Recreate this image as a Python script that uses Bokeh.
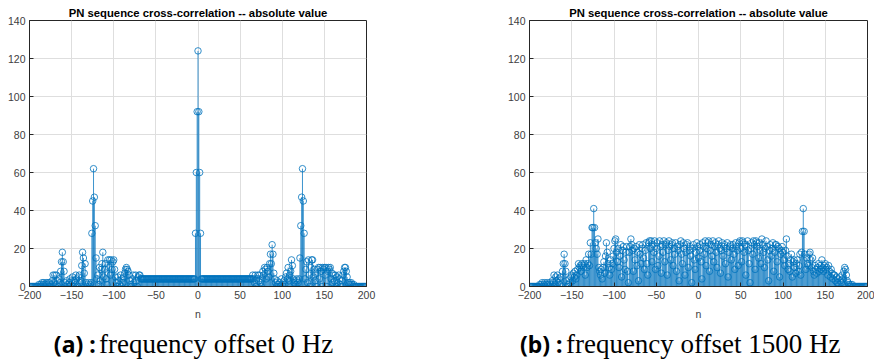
from bokeh.plotting import figure
from bokeh.models import Div, FixedTicker
from bokeh.layouts import row, column
from bokeh.embed import file_html
from bokeh.resources import INLINE

# lags n = -199 .. 199
lags = list(range(-199, 200))

corr_a = (
    [0,0,0,0,0,0,0,0,0,0,1,0,1,0,2,1,2,0,1,2] +
    [1,2,0,2,1,0,3,6,2,6,1,6,3,0,4,2,8,13,18,13] +
    [8,2,0,3,1,0,2,4,1,3,5,0,3,2,6,4,0,5,6,2] +
    [3,11,18,15,7,12,2,0,1,2,0,1,2,28,45,62,47,32,15,4] +
    [6,1,10,3,9,12,18,5,9,12,4,1,14,10,14,6,14,9,13,14] +
    [9,5,2,0,5,3,1,6,0,4,2,5,7,9,10,9,8,6,3,1] +
    [0,4,6,2,0,6,3,0,5,6,6,4,4,4,4,4,4,4,4,4] +
    [4,4,4,4,4,4,4,4,4,4,4,4,4,4,4,4,4,4,4,4] +
    [4,4,4,4,4,4,4,4,4,4,4,4,4,4,4,4,4,4,4,4] +
    [4,4,4,4,4,4,4,4,4,4,4,4,4,4,4,4,28,60,92,124] +
    [92,60,28,4,4,4,4,4,4,4,4,4,4,4,4,4,4,4,4,4] +
    [4,4,4,4,4,4,4,4,4,4,4,4,4,4,4,4,4,4,4,4] +
    [4,4,4,4,4,4,4,4,4,4,4,4,4,4,4,4,4,4,4,4] +
    [4,4,4,4,6,4,2,6,0,4,6,3,6,2,0,4,8,6,10,9] +
    [4,10,8,5,12,17,12,22,17,7,4,2,0,3,1,0,2,0,4,1] +
    [0,3,1,5,7,4,10,3,6,8,14,11,4,2,3,1,4,3,2,4] +
    [15,32,47,62,45,28,4,9,13,2,14,6,0,10,14,14,5,9,3,7] +
    [0,9,10,4,10,8,0,10,9,10,6,10,0,8,10,9,10,4,7,2] +
    [6,3,6,0,5,2,6,4,1,0,3,6,8,10,10,8,5,2,1,2] +
    [1,2,1,0,1,0,0,0,0,0,0,0,0,0,0,0,0,0,0]
)

corr_b = (
    [0,0,0,0,0,0,0,0,0,0,0,1,0,1,2,0,1,2,0,1] +
    [2,1,0,2,1,0,3,2,6,1,5,3,6,2,4,1,5,0,8,12] +
    [17,12,8,3,0,1,4,2,5,6,3,7,5,8,4,6,9,12,10,11] +
    [8,12,11,10,12,6,14,10,12,17,11,23,17,31,31,41,31,23,20,17] +
    [25,10,8,6,9,4,10,13,7,16,23,18,12,10,6,14,9,12,16,20] +
    [24,25,18,13,20,10,16,22,5,19,21,14,9,18,21,8,2,18,21,25] +
    [22,19,8,20,14,21,11,18,3,22,17,12,20,22,15,9,19,23,12,6] +
    [23,24,20,24,13,22,18,24,9,20,23,11,16,24,21,7,22,18,24,13] +
    [22,23,6,19,24,21,14,22,23,11,20,17,23,8,21,19,3,22,24,17] +
    [12,23,20,6,18,22,23,10,19,21,16,2,20,22,14,9,18,23,21,15] +
    [19,22,13,4,23,21,17,24,11,20,23,24,8,19,22,16,24,13,21,23] +
    [18,10,22,24,20,7,19,23,16,21,22,12,20,23,5,18,21,22,14,20] +
    [22,17,9,23,21,19,11,23,24,20,13,24,23,18,22,6,21,24,19,12] +
    [2,20,23,17,24,22,9,24,23,21,15,23,19,12,25,22,18,10,20,24] +
    [21,14,3,19,22,16,20,23,8,18,22,22,13,21,20,5,17,19,21,18] +
    [14,11,19,25,16,9,12,8,14,17,5,13,14,10,7,12,14,8,11,17] +
    [6,18,29,41,29,17,9,15,12,11,17,18,14,10,15,8,6,11,9,7] +
    [10,12,8,11,9,14,10,8,11,12,9,10,6,11,8,5,9,7,4,6] +
    [6,3,5,2,4,1,5,3,2,6,4,8,10,9,6,3,2,1,0,1] +
    [0,1,0,0,0,0,0,0,0,0,0,0,0,0,0,0,0,0,0]
)

x_ticks = [-200, -150, -100, -50, 0, 50, 100, 150, 200]
y_ticks = [0, 20, 40, 60, 80, 100, 120, 140]
title_text = "PN sequence cross-correlation -- absolute value"
x_label = "n"
caption_tags = ["(a) :", "(b) :"]
caption_texts = ["frequency offset 0 Hz", "frequency offset 1500 Hz"]

BLUE = "#0072BD"
AXC = "#262626"
TICKC = "#404040"


def make_panel(vals, left, right, fw):
    p = figure(frame_width=fw, frame_height=266,
               min_border_left=left, min_border_right=right,
               min_border_top=20, min_border_bottom=40,
               x_range=(-200, 200), y_range=(0, 140),
               output_backend="svg", toolbar_location=None,
               title=title_text)
    p.title.text_font = "Liberation Sans"
    p.title.text_font_size = "11.3px"
    p.title.text_font_style = "bold"
    p.title.text_color = "#000000"
    p.title.align = "center"
    p.title.standoff = 4
    p.segment(x0=lags, y0=[0] * len(lags), x1=lags, y1=vals,
              line_color=BLUE, line_width=0.9, line_alpha=0.85)
    p.scatter(x=lags, y=vals, marker="circle", size=6.5,
              fill_color=None, line_color=BLUE, line_width=0.8)
    p.xaxis.ticker = FixedTicker(ticks=x_ticks)
    p.yaxis.ticker = FixedTicker(ticks=y_ticks)
    for ax in (p.xaxis[0], p.yaxis[0]):
        ax.axis_line_color = AXC
        ax.major_tick_line_color = AXC
        ax.major_tick_in = 4
        ax.major_tick_out = 0
        ax.minor_tick_line_color = None
        ax.major_label_text_font = "Liberation Sans"
        ax.major_label_text_font_size = "10.5px"
        ax.major_label_text_color = TICKC
        ax.major_label_standoff = 4
    p.xaxis.axis_label = x_label
    p.xaxis.axis_label_text_font = "Liberation Sans"
    p.xaxis.axis_label_text_font_size = "10.5px"
    p.xaxis.axis_label_text_font_style = "normal"
    p.xaxis.axis_label_text_color = TICKC
    p.xaxis.axis_label_standoff = 6
    p.grid.grid_line_color = "#dedede"
    p.grid.grid_line_width = 1
    p.outline_line_color = AXC
    p.outline_line_width = 1
    p.background_fill_color = "white"
    p.border_fill_color = "white"
    return p


p1 = make_panel(corr_a, 29, 71, 337)
p2 = make_panel(corr_b, 92, 7, 338)


def caption(tag, txt, pad_left, pad_right):
    html = (
        f'<div style="width:{437 - pad_left - pad_right}px;padding-left:{pad_left}px;'
        f'padding-right:{pad_right}px;text-align:center;line-height:36px;white-space:nowrap;">'
        f'<span style="font-family:\'Noto Sans\';font-weight:bold;font-size:23px;">{tag}</span>&nbsp;'
        f'<span style="font-family:\'Liberation Serif\';font-size:27px;">{txt}</span></div>'
    )
    return Div(text=html, width=437, height=37, margin=0)


d1 = caption(caption_tags[0], caption_texts[0], 0, 25)
d2 = caption(caption_tags[1], caption_texts[1], 83, 0)

layout = column(row(p1, p2), row(d1, d2))

open("out.html", "w").write(file_html(layout, INLINE))
